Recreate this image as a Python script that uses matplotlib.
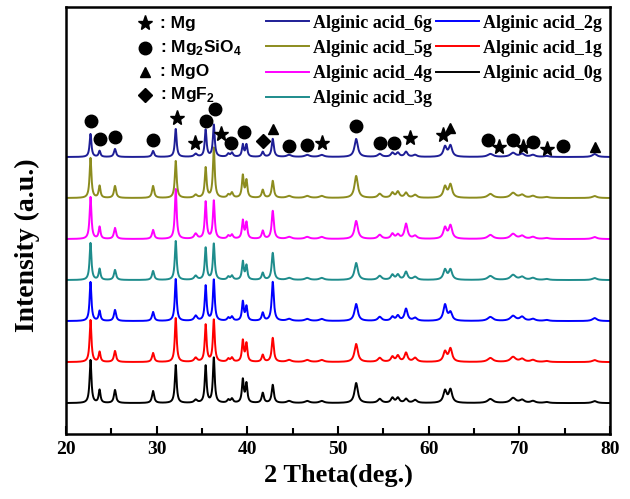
import numpy as np
import matplotlib.pyplot as plt

plt.rcParams["mathtext.fontset"] = "custom"
plt.rcParams["mathtext.rm"] = "Liberation Sans:bold"
plt.rcParams["mathtext.bf"] = "Liberation Sans:bold"

# samples from bottom (0g) to top (6g)
samples = ["Alginic acid_0g", "Alginic acid_1g", "Alginic acid_2g", "Alginic acid_3g",
           "Alginic acid_4g", "Alginic acid_5g", "Alginic acid_6g"]
colors = ["#000000", "#ff0000", "#0000ff", "#1e8c8c", "#ff00ff", "#8c8c1e", "#1e1e96"]

# peak table (2theta, deg)
peak_pos = [22.7, 23.7, 25.4, 29.6, 32.1, 34.3, 35.4, 36.3, 37.9, 38.3, 39.5, 39.9,
            41.7, 42.8, 44.6, 46.6, 48.2, 52.0, 54.6, 56.0, 56.6, 57.5, 58.5, 61.8,
            62.4, 66.8, 69.3, 70.3, 71.5, 73.0, 78.3]
peak_hwhm = [0.12, 0.12, 0.14, 0.14, 0.12, 0.2, 0.12, 0.12, 0.15, 0.15, 0.12, 0.12,
             0.14, 0.14, 0.3, 0.3, 0.3, 0.22, 0.25, 0.2, 0.2, 0.2, 0.25, 0.22,
             0.22, 0.35, 0.35, 0.3, 0.3, 0.3, 0.3]

h_0g = [43, 13, 13, 12, 38, 3, 37, 45, 3, 4, 23, 19, 10, 18, 2, 2, 2, 20, 4, 5, 5, 4, 3, 12, 13, 4, 5, 3, 2, 1, 2]
h_1g = [42, 10, 11, 9, 44, 4, 37, 42, 3, 4, 21, 18, 7, 24, 2, 2, 2, 18, 4, 5, 6, 9, 4, 10, 13, 4, 5, 3, 2, 1, 2]
h_2g = [39, 10, 11, 9, 42, 5, 35, 41, 3, 4, 19, 14, 8, 39, 2, 2, 2, 17, 4, 4, 5, 12, 3, 16, 8, 4, 5, 4, 2, 1, 3]
h_3g = [37, 11, 10, 9, 39, 4, 32, 36, 3, 4, 18, 14, 7, 27, 2, 2, 2, 17, 4, 5, 5, 8, 3, 10, 10, 4, 5, 3, 2, 1, 2]
h_4g = [42, 12, 11, 9, 50, 5, 37, 38, 3, 4, 18, 16, 8, 28, 2, 2, 2, 18, 4, 5, 4, 15, 3, 11, 13, 4, 5, 3, 2, 1, 2]
h_5g = [40, 12, 12, 12, 37, 3, 30, 50, 3, 5, 22, 17, 8, 17, 2, 2, 2, 22, 4, 5, 6, 5, 3, 11, 13, 4, 5, 3, 2, 1, 2]
h_6g = [23, 6, 8, 6, 28, 3, 27, 32, 3, 4, 12, 12, 5, 18, 2, 2, 2, 18, 3, 4, 4, 5, 2, 10, 11, 3, 4, 3, 2, 1, 3]
heights = [h_0g, h_1g, h_2g, h_3g, h_4g, h_5g, h_6g]

# phase markers (2theta, height above bottom)
mg_x = [32.2, 34.2, 37.1, 48.2, 57.9, 61.6, 67.8, 70.4, 73.0]
mg_y = [316, 291, 300, 291, 296, 299, 287, 287, 285]
sio_x = [22.7, 23.7, 25.4, 29.6, 35.4, 36.4, 38.2, 39.6, 44.6, 46.6, 52.0, 54.6, 56.2, 66.5, 69.3, 71.5, 74.8]
sio_y = [313, 295, 297, 294, 313, 325, 291, 302, 288, 289, 308, 291, 291, 294, 294, 292, 288]
mgo_x = [42.8, 62.4, 78.3]
mgo_y = [305, 306, 287]
mgf_x = [41.7]
mgf_y = [293]

fig = plt.figure(figsize=(6.3, 4.99), dpi=100)
ax = fig.add_axes([0.1048, 0.130, 0.8635, 0.856])

x = np.linspace(20, 80, 4001)
lines = []
for i, (name, col, hs) in enumerate(zip(samples, colors, heights)):
    y = np.full_like(x, 31 + 41 * i)
    for c, g, h in zip(peak_pos, peak_hwhm, hs):
        y += h * g ** 2 / ((x - c) ** 2 + g ** 2)
    ln, = ax.plot(x, y, color=col, lw=1.4, label=name)
    lines.append(ln)

ax.plot(mg_x, mg_y, ls="none", marker="*", ms=11, color="black")
ax.plot(sio_x, sio_y, ls="none", marker="o", ms=9, color="black")
ax.plot(mgo_x, mgo_y, ls="none", marker="^", ms=7.5, color="black")
ax.plot(mgf_x, mgf_y, ls="none", marker="D", ms=7, color="black")

# phase key
key_mk = ["*", "o", "^", "D"]
key_ms = [11, 9, 7.5, 7]
key_txt = [": Mg", ": Mg$_2$SiO$_4$", ": MgO", ": MgF$_2$"]
key_y = [0.9625, 0.904, 0.848, 0.794]
for mk, ms, t, yy in zip(key_mk, key_ms, key_txt, key_y):
    ax.plot([0.145], [yy], ls="none", marker=mk, ms=ms, color="black", transform=ax.transAxes)
    ax.text(0.172, yy, t, transform=ax.transAxes, va="center", ha="left",
            fontsize=12.5, fontweight="bold", family=["Liberation Sans", "DejaVu Sans"])

order = lines[::-1]
ax.legend(order, [l.get_label() for l in order], ncol=2, loc="upper right",
          bbox_to_anchor=(1.015, 1.02), frameon=False, handlelength=2.4,
          handletextpad=0.22, columnspacing=0.22, labelspacing=0.45,
          prop={"family": "Liberation Serif", "weight": "bold", "size": 13})

ax.set_xlim(20, 80)
ax.set_ylim(0, 427)
ax.set_xticks(range(20, 81, 10))
ax.set_xticks(range(25, 80, 10), minor=True)
ax.set_yticks([])
ax.tick_params(axis="x", which="major", direction="in", length=6, width=1.5, pad=5)
ax.tick_params(axis="x", which="minor", direction="in", length=4, width=1.5)
for lab in ax.get_xticklabels():
    lab.set_family("Liberation Serif")
    lab.set_fontweight("bold")
    lab.set_fontsize(14)
for s in ax.spines.values():
    s.set_linewidth(1.8)

ax.set_xlabel("2 Theta(deg.)", family="Liberation Serif", fontweight="bold", fontsize=19, labelpad=4)
ax.set_ylabel("Intensity (a.u.)", family="Liberation Serif", fontweight="bold", fontsize=20)
ax.yaxis.set_label_coords(-0.047, 0.443)

fig.savefig("out.png", dpi=100)
